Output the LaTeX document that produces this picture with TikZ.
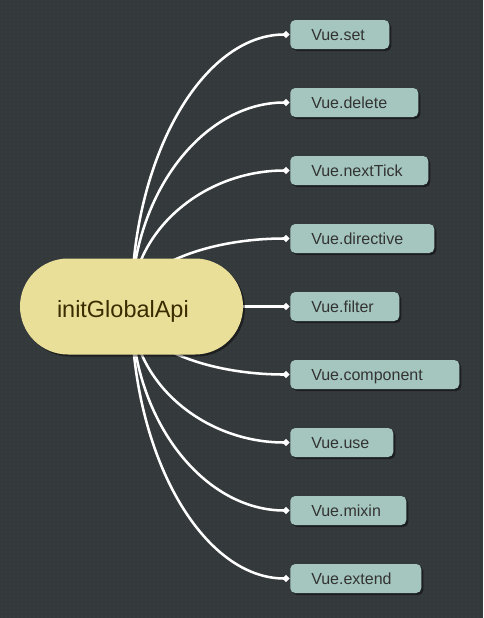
\documentclass[tikz,border=0pt]{standalone}
\usepackage{fontspec}
\setmainfont{Liberation Sans}
\usetikzlibrary{positioning,calc,arrows.meta,shadows,patterns}

\definecolor{board}{HTML}{353A3D}
\definecolor{boarddot}{HTML}{2C3033}
\definecolor{hubfill}{HTML}{E9DF98}
\definecolor{hubtext}{HTML}{3D2B00}
\definecolor{leaffill}{HTML}{A4C6BE}
\definecolor{leaftext}{HTML}{333333}

\pgfdeclarelayer{board}
\pgfdeclarelayer{links}
\pgfsetlayers{board,links,main}

\tikzset{
  hub/.style={fill=hubfill, text=hubtext, rounded corners=36pt,
    minimum width=167.25pt, minimum height=72pt, inner xsep=27.75pt,
    text width=111.75pt, align=left, text height=16.5pt, text depth=0pt,
    font=\fontsize{17.6}{20}\selectfont,
    drop shadow={shadow xshift=1.5pt, shadow yshift=-1.5pt, opacity=0.45, fill=black}},
  leaf/.style={fill=leaffill, text=leaftext, rounded corners=3.75pt, anchor=west,
    minimum height=21.75pt, inner xsep=15.75pt, inner ysep=0pt, align=left,
    text height=8.6pt, text depth=0pt, font=\fontsize{12}{14}\selectfont,
    drop shadow={shadow xshift=1.5pt, shadow yshift=-1.5pt, opacity=0.45, fill=black}},
  link/.style={draw=white, line width=1.9pt, shorten >=0.75pt, -{Circle[length=4.5pt]}}
}

\begin{document}
\begin{tikzpicture}[x=0.75pt, y=-0.75pt]
  \useasboundingbox (0,0) rectangle (483,618);

  % Background
  \begin{pgfonlayer}{board}
    \fill[board] (0,0) rectangle (483,618);
    \fill[pattern=dots, pattern color=boarddot] (0,0) rectangle (483,618);
  \end{pgfonlayer}

  % Root
  \node[hub] (hub) at (131.5,306.5) {initGlobalApi};

  % Leaves
  \foreach \name/\w [count=\i] in {set/99,delete/128,nextTick/138,directive/144,filter/109,component/169,use/103,mixin/116,extend/131}
  {
    \pgfmathsetmacro{\y}{34.5+68*(\i-1)}
    \pgfmathsetmacro{\tw}{(\w-42)*0.75}
    \node[leaf, text width=\tw pt] (\name) at (290,\y) {Vue.\name};
  }

  % Links
  \begin{pgfonlayer}{links}
    \foreach \name in {set,delete,nextTick,directive,filter,component,use,mixin,extend}
      \draw[link] (hub.center) .. controls ($(hub.center)!0.55!(hub.center |- \name.west)$)
        and ($(\name.west)!0.55!(hub.center |- \name.west)$) .. (\name.west);
  \end{pgfonlayer}
\end{tikzpicture}
\end{document}
